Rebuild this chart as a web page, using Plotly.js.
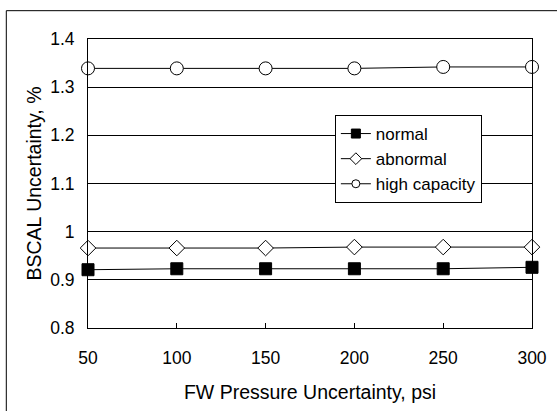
<!DOCTYPE html>
<html>
<head>
<meta charset="utf-8">
<script src="https://cdn.plot.ly/plotly-3.0.1.min.js"></script>
<style>html,body{margin:0;padding:0;background:#fff;}#chart{width:557px;height:411px;}</style>
</head>
<body>
<div id="chart"></div>
<script>
const pressure = [50, 100, 150, 200, 250, 300];
const normal = [0.921, 0.923, 0.923, 0.923, 0.923, 0.926];
const abnormal = [0.966, 0.966, 0.966, 0.968, 0.968, 0.968];
const highCapacity = [1.339, 1.339, 1.339, 1.339, 1.342, 1.342];
const seriesNames = ['normal', 'abnormal', 'high capacity'];
const xTicks = [50, 100, 150, 200, 250, 300];
const yTicks = [0.8, 0.9, 1.0, 1.1, 1.2, 1.3, 1.4];
const yTickText = ['0.8', '0.9', '1', '1.1', '1.2', '1.3', '1.4'];

const font = {family: 'Liberation Sans, Arial, sans-serif', color: '#000'};
function f(size) { return Object.assign({size: size}, font); }
function tr(name, y, symbol, size, fill) {
  return {
    x: pressure, y: y, name: name, type: 'scatter', mode: 'lines+markers',
    line: {color: '#000', width: 1},
    marker: {symbol: symbol, size: size, color: fill, line: {color: '#000', width: 1}},
    cliponaxis: false, showlegend: false
  };
}
function legTr(name, symbol, size, fill) {
  return {
    x: [null], y: [null], name: name, type: 'scatter', mode: 'lines+markers',
    line: {color: '#000', width: 1},
    marker: {symbol: symbol, size: size, color: fill, line: {color: '#000', width: 1}},
    showlegend: true, hoverinfo: 'skip'
  };
}
const data = [
  tr(seriesNames[0], normal, 'square', 12, '#000'),
  tr(seriesNames[1], abnormal, 'diamond', 12, '#fff'),
  tr(seriesNames[2], highCapacity, 'circle', 13, '#fff'),
  legTr(seriesNames[0], 'square', 9, '#000'),
  legTr(seriesNames[1], 'diamond', 9, '#fff'),
  legTr(seriesNames[2], 'circle', 8, '#fff')
];
const layout = {
  width: 557, height: 411,
  margin: {l: 88, r: 25, t: 39, b: 83},
  paper_bgcolor: '#fff', plot_bgcolor: '#fff',
  font: f(17.5),
  showlegend: true,
  legend: {
    x: 0.556, y: 0.737, xanchor: 'left', yanchor: 'top',
    bgcolor: '#fff', bordercolor: '#000', borderwidth: 1,
    font: f(17),
    tracegroupgap: 0, itemwidth: 30
  },
  xaxis: {
    range: [50, 300], tickvals: xTicks, ticktext: xTicks.map(String),
    ticks: 'inside', ticklen: 5, tickcolor: '#000', tickwidth: 1,
    showline: true, linecolor: '#000', linewidth: 1, mirror: true,
    showgrid: false, zeroline: false, ticklabelstandoff: 14,
    tickfont: f(17.5),
    title: {text: 'FW Pressure Uncertainty, psi', font: f(19.5), standoff: 18}
  },
  yaxis: {
    range: [0.8, 1.4], tickvals: yTicks, ticktext: yTickText,
    ticks: '', showline: true, linecolor: '#000', linewidth: 1, mirror: true,
    showgrid: true, gridcolor: '#000', gridwidth: 1, zeroline: false,
    ticklabelstandoff: 9,
    tickfont: f(17.5),
    title: {text: 'BSCAL Uncertainty, %', font: f(19.5), standoff: 3}
  },
  shapes: [
    {type: 'line', xref: 'paper', yref: 'paper', x0: -0.184, x1: 1.2, y0: 1.098, y1: 1.098, line: {color: '#000', width: 1}},
    {type: 'line', xref: 'paper', yref: 'paper', x0: -0.184, x1: -0.184, y0: 1.098, y1: -0.4, line: {color: '#000', width: 1}}
  ]
};
Plotly.newPlot('chart', data, layout, {displayModeBar: false, staticPlot: true});
</script>
</body>
</html>
